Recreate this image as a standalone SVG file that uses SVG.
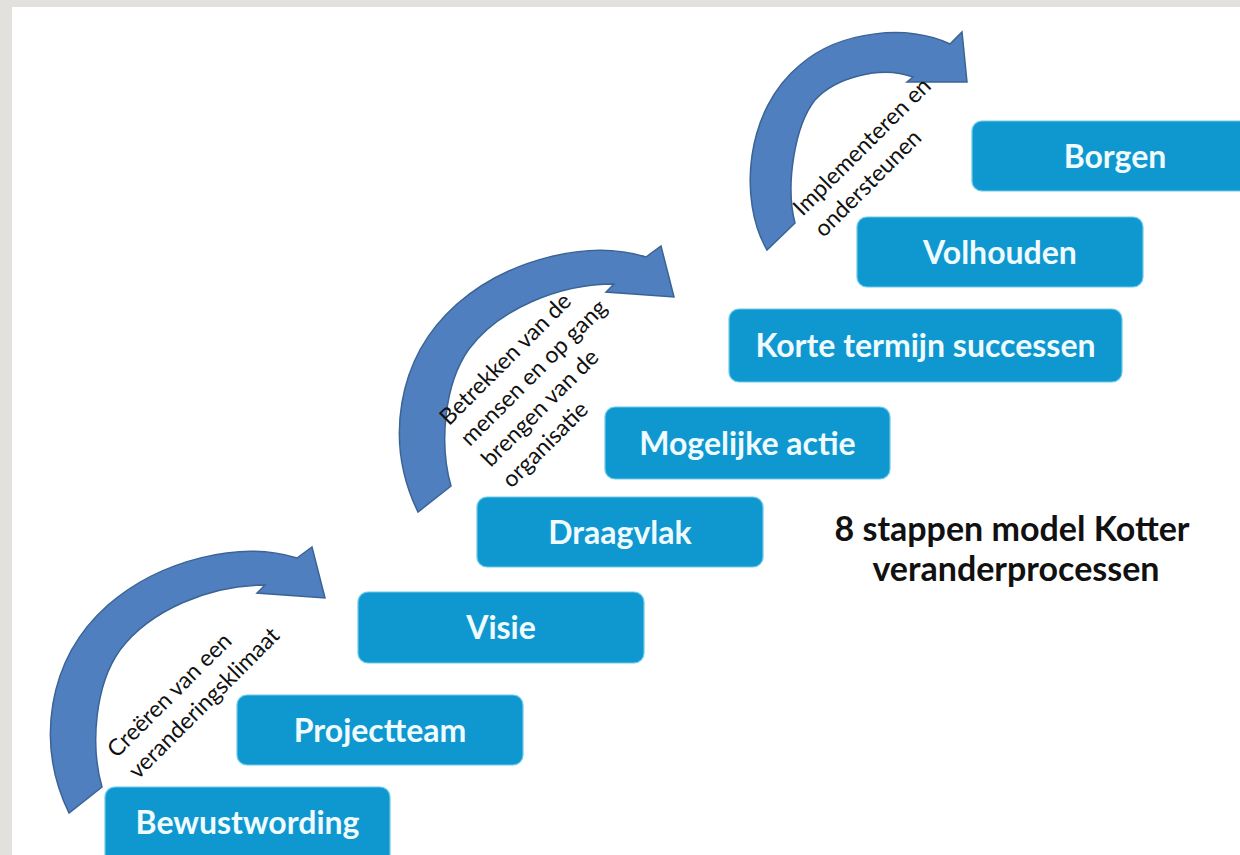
<svg xmlns="http://www.w3.org/2000/svg" xmlns:xlink="http://www.w3.org/1999/xlink" width="1240" height="855" viewBox="0 0 1240 855">
<style>
.box{fill:#0f98cf;stroke:#6ccaec;stroke-width:1.2}
.bt{font-family:Lato,"Open Sans","Liberation Sans",sans-serif;font-weight:700;font-size:32px;fill:#effbff;text-anchor:middle}
.arr{fill:#4f7fbe;stroke:#3b6496;stroke-width:1.5;stroke-linejoin:miter}
.lbl{font-family:Lato,"Open Sans","Liberation Sans",sans-serif;font-size:23px;fill:#111}
.title{font-family:Lato,"Open Sans","Liberation Sans",sans-serif;font-weight:700;font-size:34px;fill:#111;text-anchor:middle}
</style>
<defs>
<path id="arrowA" d="M 69,813 C 36,745 46,660 108,605 C 160,560 240,540 297,558 L 312,547 L 325,598 L 257,593 L 265,585 C 210,585 150,610 120,650 C 95,685 90,745 102,787 Z"/>
</defs>
<rect x="0" y="0" width="1240" height="855" fill="#e3e1dd"/>
<rect x="12" y="7" width="1228" height="848" fill="#ffffff"/>
<g id="connectors">
<use xlink:href="#arrowA" class="arr"/>
<use xlink:href="#arrowA" class="arr" transform="translate(349,-301)"/>
<path class="arr" d="M 767,250 C 738,200 745,110 800,65 C 840,30 910,24 950,44 L 962,32 L 967,82 L 907,82 L 913,77 C 880,65 835,78 815,100 C 795,125 785,185 795,223 Z"/>
</g>
<g id="label1" transform="rotate(-45)">
<text class="lbl" x="-454" y="619">Creëren van een</text>
<text class="lbl" x="-454" y="649">veranderingsklimaat</text>
</g>
<g id="label2" transform="rotate(-45)">
<text class="lbl" x="16" y="619">Betrekken van de</text>
<text class="lbl" x="16" y="648.5">mensen en op gang</text>
<text class="lbl" x="16" y="678">brengen van de</text>
<text class="lbl" x="16" y="707.5">organisatie</text>
</g>
<g id="label3" transform="rotate(-45)">
<text class="lbl" x="414" y="721">Implementeren en</text>
<text class="lbl" x="414" y="751">ondersteunen</text>
</g>
<g id="n1"><rect class="box" x="105" y="787" width="285" height="90" rx="10"/><text class="bt" x="247.5" y="834">Bewustwording</text></g>
<g id="n2"><rect class="box" x="237" y="695" width="286" height="70" rx="10"/><text class="bt" x="380" y="742">Projectteam</text></g>
<g id="n3"><rect class="box" x="358" y="592" width="286" height="71" rx="10"/><text class="bt" x="501" y="639">Visie</text></g>
<g id="n4"><rect class="box" x="477" y="497" width="286" height="70" rx="10"/><text class="bt" x="620" y="544">Draagvlak</text></g>
<g id="n5"><rect class="box" x="605" y="407" width="285" height="72" rx="10"/><text class="bt" x="747.5" y="455">Mogelijke actie</text></g>
<g id="n6"><rect class="box" x="729" y="309" width="393" height="73" rx="10"/><text class="bt" x="925.5" y="357">Korte termijn successen</text></g>
<g id="n7"><rect class="box" x="857" y="217" width="286" height="70" rx="10"/><text class="bt" x="1000" y="264">Volhouden</text></g>
<g id="n8"><rect class="box" x="972" y="121" width="286" height="70" rx="10"/><text class="bt" x="1115" y="168">Borgen</text></g>
<g id="title">
<text class="title" x="1012" y="541">8 stappen model Kotter</text>
<text class="title" x="1016" y="581">veranderprocessen</text>
</g>
</svg>
